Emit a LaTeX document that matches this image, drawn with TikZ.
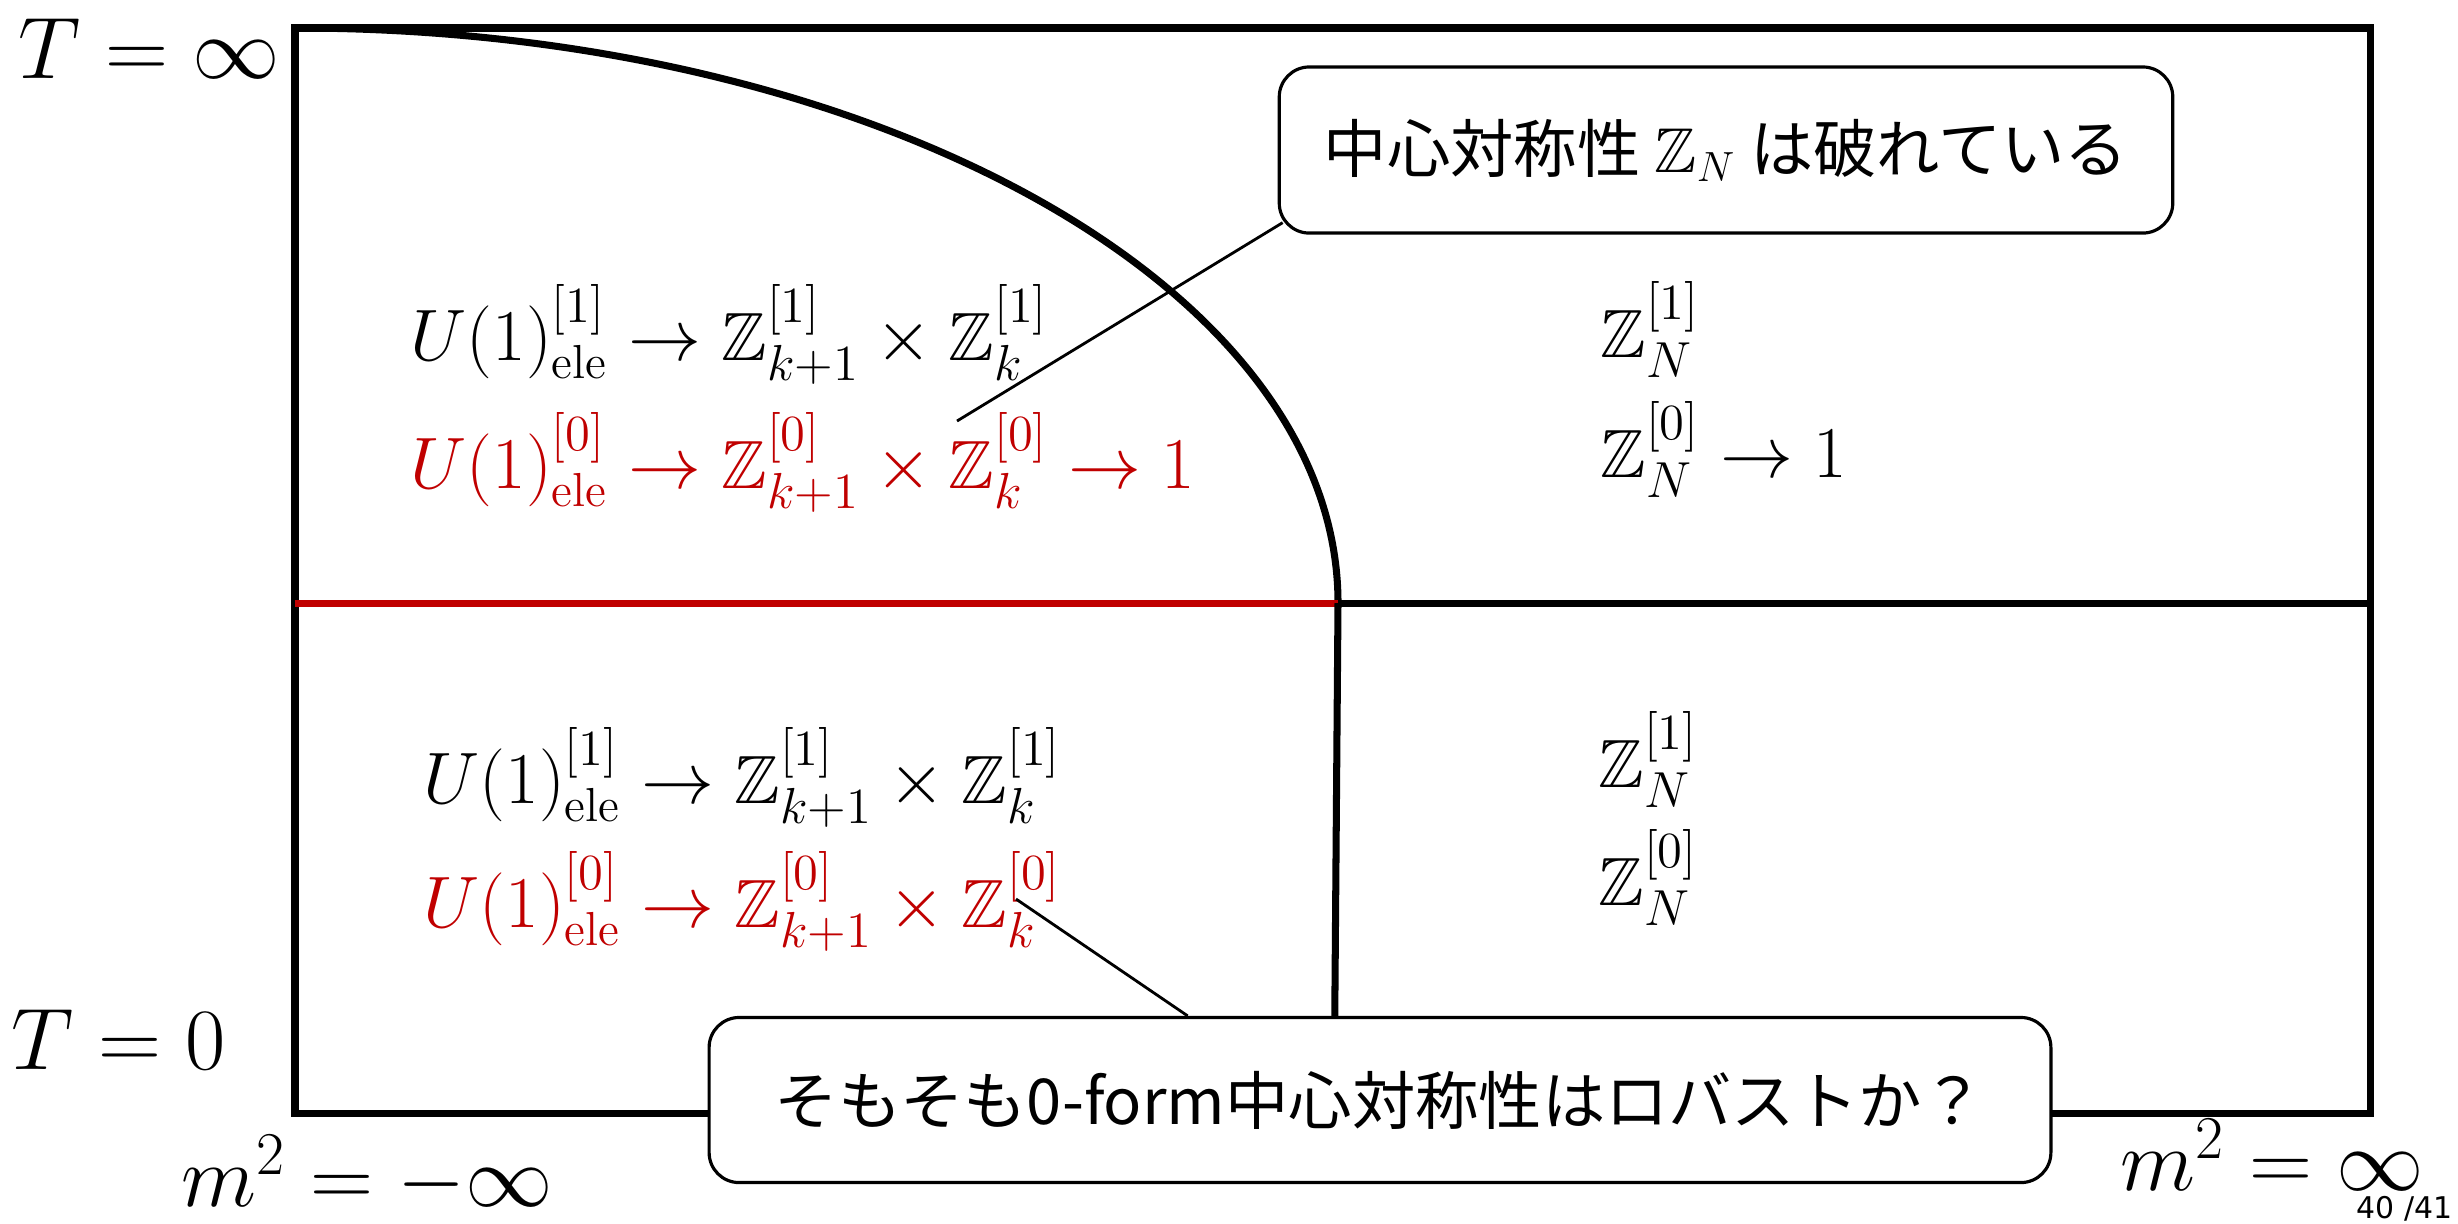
\documentclass[tikz,border=0pt]{standalone}
\usepackage{amssymb}
\usepackage{fontspec}
\newfontfamily\jpfont{Noto Sans CJK JP}
\newfontfamily\pgfont{DejaVu Sans}
\usetikzlibrary{calc}
\definecolor{dred}{RGB}{192,0,0}
\begin{document}
\begin{tikzpicture}[x=0.01cm,y=-0.01cm,
  frame/.style={line width=2pt},
  thinline/.style={line width=0.8pt},
  mathrow/.style={anchor=base west, inner sep=0pt, font=\fontsize{19.4}{23}\selectfont},
  axislabel/.style={anchor=base west, inner sep=0pt, font=\fontsize{25}{30}\selectfont},
  callout/.style={draw, line width=0.9pt, rounded corners=0.3cm, fill=white, inner sep=0pt,
                  font=\jpfont\fontsize{18}{22}\selectfont}]
\useasboundingbox (0,0) rectangle (2458,1223);
% frame corners
\coordinate (TL) at (295,28);
\coordinate (BR) at (2370,1113);
\coordinate (ML) at (295,603);
\coordinate (MM) at (1338,603);
\coordinate (MR) at (2370,603);
\coordinate (VB) at (1334,1113);
% frame
\draw[frame] (TL) rectangle (BR);
% phase boundary curve (quarter ellipse)
\draw[frame] (TL) .. controls (870,28) and (1338,286) .. (MM);
% horizontal boundaries
\draw[frame, dred] (ML) -- (MM);
\draw[frame] (MM) -- (MR);
% vertical boundary
\draw[frame] (MM) -- (VB);
% math texts
\node[mathrow] (a1) at (410,360) {$U(1)^{[1]}_{\mathrm{ele}}\to\mathbb{Z}^{[1]}_{k+1}\times\mathbb{Z}^{[1]}_{k}$};
\node[mathrow, text=dred] (a0) at (410,488) {$U(1)^{[0]}_{\mathrm{ele}}\to\mathbb{Z}^{[0]}_{k+1}\times\mathbb{Z}^{[0]}_{k}\to 1$};
\node[mathrow] (b1) at (423,803) {$U(1)^{[1]}_{\mathrm{ele}}\to\mathbb{Z}^{[1]}_{k+1}\times\mathbb{Z}^{[1]}_{k}$};
\node[mathrow, text=dred] (b0) at (423,927) {$U(1)^{[0]}_{\mathrm{ele}}\to\mathbb{Z}^{[0]}_{k+1}\times\mathbb{Z}^{[0]}_{k}$};
\node[mathrow] (c1z) at (1600,357) {$\mathbb{Z}^{[1]}_{N}$};
\node[mathrow] (c0z) at (1600,477) {$\mathbb{Z}^{[0]}_{N}\to 1$};
\node[mathrow] (d1z) at (1598,787) {$\mathbb{Z}^{[1]}_{N}$};
\node[mathrow] (d0z) at (1598,905) {$\mathbb{Z}^{[0]}_{N}$};
% axis labels
\node[axislabel] (tinf) at (18,78) {$T=\infty$};
\node[axislabel] (tzero) at (11,1069) {$T=0$};
\node[axislabel] (mneg) at (181,1206) {$m^2=-\infty$};
\node[axislabel] (mpos) at (2120,1190) {$m^2=\infty$};
\node[anchor=base east, inner sep=0pt, font=\pgfont\fontsize{8.5}{10}\selectfont] (page) at (2453,1218) {40 /41};
% callout pointers
\coordinate (p1) at (957,421);
\coordinate (p2) at (1016,899);
\node[callout, minimum width=8.93cm, minimum height=1.66cm] (c1) at (1726,150) {中心対称性 $\mathbb{Z}_N$ は破れている};
\node[callout, minimum width=13.41cm, minimum height=1.65cm] (c2) at (1380,1100) {そもそも0-form中心対称性はロバストか？};
\coordinate (q1) at ($(c1.south west)+(5,-12)$);
\coordinate (q2) at ($(c2.north west)!0.357!(c2.north east)$);
\draw[thinline] (p1) -- (q1);
\draw[thinline] (p2) -- (q2);
\end{tikzpicture}
\end{document}
